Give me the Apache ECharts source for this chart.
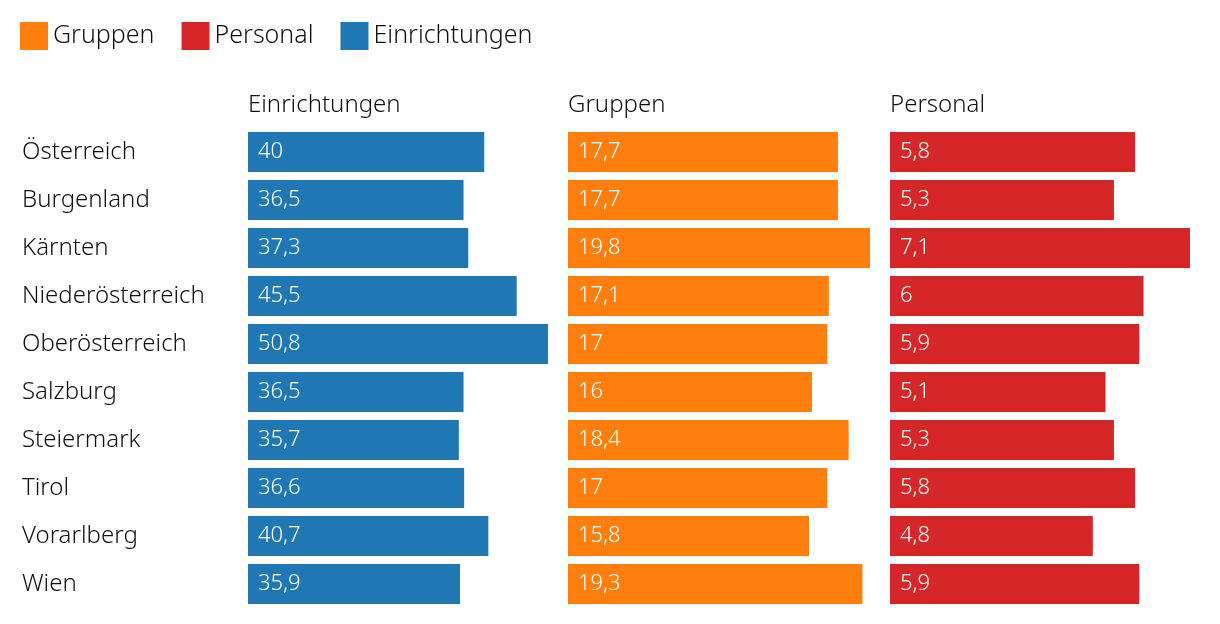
<!DOCTYPE html>
<html>
<head>
<meta charset="utf-8">
<script src="https://cdn.jsdelivr.net/npm/echarts@6/dist/echarts.min.js"></script>
<style>html,body{margin:0;padding:0;background:#fff}#c{width:1220px;height:624px}</style>
</head>
<body>
<div id="c"></div>
<script>
const categories = ['Österreich','Burgenland','Kärnten','Niederösterreich','Oberösterreich','Salzburg','Steiermark','Tirol','Vorarlberg','Wien'];
const einrichtungen = [40, 36.5, 37.3, 45.5, 50.8, 36.5, 35.7, 36.6, 40.7, 35.9];
const gruppen = [17.7, 17.7, 19.8, 17.1, 17, 16, 18.4, 17, 15.8, 19.3];
const personal = [5.8, 5.3, 7.1, 6, 5.9, 5.1, 5.3, 5.8, 4.8, 5.9];
const panelTitles = ['Einrichtungen', 'Gruppen', 'Personal'];

const FONT = 'Noto Sans';
const colors = {Einrichtungen: '#1f77b4', Gruppen: '#ff7f0e', Personal: '#d62728'};
const panels = [
  {name: 'Einrichtungen', data: einrichtungen, left: 248, width: 300},
  {name: 'Gruppen', data: gruppen, left: 568, width: 302},
  {name: 'Personal', data: personal, left: 890, width: 300}
];

const chart = echarts.init(document.getElementById('c'), null, {renderer: 'canvas'});
const option = {
  animation: false,
  textStyle: {fontFamily: FONT},
  legend: {
    data: ['Gruppen', 'Personal', 'Einrichtungen'],
    left: 20, top: 22, padding: 0, icon: 'rect', itemWidth: 28, itemHeight: 28, itemGap: 27,
    textStyle: {fontFamily: FONT, fontSize: 25, fontWeight: 300, color: '#111', padding: [3, 0, 0, 0]}
  },
  title: panels.map((p, i) => ({
    text: panelTitles[i], left: p.left, top: 93, padding: 0,
    textStyle: {fontFamily: FONT, fontSize: 24, fontWeight: 300, color: '#111'}
  })),
  grid: panels.map(p => ({left: p.left, width: p.width, top: 128, height: 480})),
  xAxis: panels.map((p, i) => ({
    type: 'value', gridIndex: i, min: 0, max: Math.max(...p.data), show: false
  })),
  yAxis: panels.map((p, i) => ({
    type: 'category', gridIndex: i, data: categories, inverse: true,
    axisLine: {show: false}, axisTick: {show: false}, splitLine: {show: false},
    axisLabel: i === 0 ? {show: true, align: 'left', margin: 226, fontFamily: FONT, fontSize: 24, fontWeight: 300, color: '#111', lineHeight: 28, padding: [6, 0, 0, 0]} : {show: false}
  })),
  series: panels.map((p, i) => ({
    name: p.name, type: 'bar', xAxisIndex: i, yAxisIndex: i, data: p.data,
    barWidth: 40, itemStyle: {color: colors[p.name]},
    label: {
      show: true, position: 'insideLeft', distance: 10, color: '#fff',
      fontFamily: FONT, fontSize: 22, fontWeight: 300, lineHeight: 26, padding: [5, 0, 0, 0],
      formatter: d => String(d.value).replace('.', ',')
    }
  }))
};
chart.setOption(option);
</script>
</body>
</html>
